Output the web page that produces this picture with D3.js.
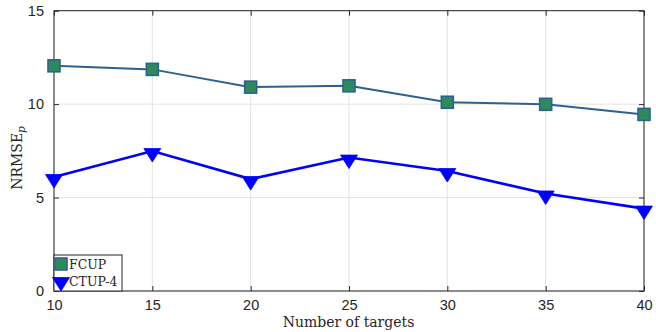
<!DOCTYPE html>
<html>
<head>
<meta charset="utf-8">
<script src="https://cdn.jsdelivr.net/npm/d3@7"></script>
<style>
  html, body { margin: 0; padding: 0; background: #fff; }
  svg { display: block; }
</style>
</head>
<body>
<svg id="chart" width="656" height="332"></svg>
<script>
const targets = [10, 15, 20, 25, 30, 35, 40];
const fcup = [12.05, 11.86, 10.91, 10.98, 10.10, 9.99, 9.45];
const ctup4 = [6.1, 7.49, 5.99, 7.14, 6.42, 5.22, 4.41];
const xTicks = [10, 15, 20, 25, 30, 35, 40];
const yTicks = [0, 5, 10, 15];
const seriesNames = ["FCUP", "CTUP-4"];

const W = 656, H = 332;
const m = { left: 54, right: 12, top: 10.7, bottom: 41 };
const svg = d3.select("#chart");

const x = d3.scaleLinear().domain([10, 40]).range([m.left, W - m.right]);
const y = d3.scaleLinear().domain([0, 15]).range([H - m.bottom, m.top]);
const x0 = x.range()[0], x1 = x.range()[1], y0 = y.range()[0], y1 = y.range()[1];

// grid
const grid = svg.append("g");
grid.selectAll("line.gx").data(xTicks).join("line")
  .attr("x1", d => x(d)).attr("x2", d => x(d)).attr("y1", y0).attr("y2", y1)
  .attr("stroke", "#e3e3e3").attr("stroke-width", 1);
grid.selectAll("line.gy").data(yTicks).join("line")
  .attr("y1", d => y(d)).attr("y2", d => y(d)).attr("x1", x0).attr("x2", x1)
  .attr("stroke", "#e3e3e3").attr("stroke-width", 1);

const tickFont = "'Liberation Sans', Arial, Helvetica, sans-serif";
function styleAxis(g, labels) {
  g.select(".domain").remove();
  g.selectAll(".tick line").attr("stroke", "#262626");
  if (labels) {
    g.selectAll(".tick text").attr("fill", "#262626")
      .style("font-family", tickFont).style("font-size", "14.5px");
  } else {
    g.selectAll(".tick text").remove();
  }
}

svg.append("g").attr("transform", `translate(0,${y0})`)
  .call(d3.axisBottom(x).tickValues(xTicks).tickSize(-5).tickPadding(9).tickFormat(d3.format("d")))
  .call(g => styleAxis(g, true));
svg.append("g").attr("transform", `translate(0,${y1})`)
  .call(d3.axisTop(x).tickValues(xTicks).tickSize(-5))
  .call(g => styleAxis(g, false));
svg.append("g").attr("transform", `translate(${x0},0)`)
  .call(d3.axisLeft(y).tickValues(yTicks).tickSize(-5).tickPadding(10).tickFormat(d3.format("d")))
  .call(g => styleAxis(g, true));
svg.append("g").attr("transform", `translate(${x1},0)`)
  .call(d3.axisRight(y).tickValues(yTicks).tickSize(-5))
  .call(g => styleAxis(g, false));

// box
svg.append("rect").attr("x", x0).attr("y", y1).attr("width", x1 - x0).attr("height", y0 - y1)
  .attr("fill", "none").attr("stroke", "#262626").attr("stroke-width", 1);

const fcupLine = "#2f6190", fcupFill = "#2e8a5c";
const blue = "#0000ff";

const line = d3.line().x((d, i) => x(targets[i])).y(d => y(d));

// FCUP
svg.append("path").datum(fcup).attr("d", line)
  .attr("fill", "none").attr("stroke", fcupLine).attr("stroke-width", 2);
const sq = 12;
svg.selectAll("rect.fc").data(fcup).join("rect")
  .attr("x", (d, i) => x(targets[i]) - sq / 2).attr("y", d => y(d) - sq / 2)
  .attr("width", sq).attr("height", sq)
  .attr("fill", fcupFill).attr("stroke", fcupLine).attr("stroke-width", 1.6);

// CTUP-4
svg.append("path").datum(ctup4).attr("d", line)
  .attr("fill", "none").attr("stroke", blue).attr("stroke-width", 2.6);
function tri(cx, cy) {
  return `M${cx - 8.5},${cy - 2.5}L${cx + 8.5},${cy - 2.5}L${cx},${cy + 11}Z`;
}
svg.selectAll("path.ct").data(ctup4).join("path")
  .attr("d", (d, i) => tri(x(targets[i]), y(d)))
  .attr("fill", blue).attr("stroke", blue).attr("stroke-width", 0.8);

// axis labels
const serif = "'DejaVu Serif', 'Liberation Serif', serif";
svg.append("text").attr("x", 348.5).attr("y", 327).attr("text-anchor", "middle")
  .style("font-family", serif).style("font-size", "14px").attr("fill", "#262626")
  .text("Number of targets");
const yl = svg.append("text").attr("transform", `translate(22,158) rotate(-90)`)
  .attr("text-anchor", "middle")
  .style("font-family", serif).style("font-size", "14px").attr("fill", "#262626");
yl.append("tspan").text("NRMSE");
yl.append("tspan").attr("dy", 3).style("font-size", "10.5px").style("font-style", "italic").text("p");

// legend
const lg = svg.append("g");
lg.append("rect").attr("x", x0).attr("y", 255).attr("width", 68).attr("height", y0 - 255)
  .attr("fill", "#fff").attr("stroke", "#262626").attr("stroke-width", 1);
lg.append("rect").attr("x", 61 - sq / 2).attr("y", 264 - sq / 2).attr("width", sq).attr("height", sq)
  .attr("fill", fcupFill).attr("stroke", fcupLine).attr("stroke-width", 1.6);
lg.append("path").attr("d", tri(61, 280)).attr("fill", blue).attr("stroke", blue).attr("stroke-width", 0.8);
lg.selectAll("text.lt").data(seriesNames).join("text")
  .attr("x", 69).attr("y", (d, i) => i === 0 ? 269 : 286)
  .style("font-family", serif).style("font-size", "12.5px").attr("fill", "#262626")
  .text(d => d);
</script>
</body>
</html>
